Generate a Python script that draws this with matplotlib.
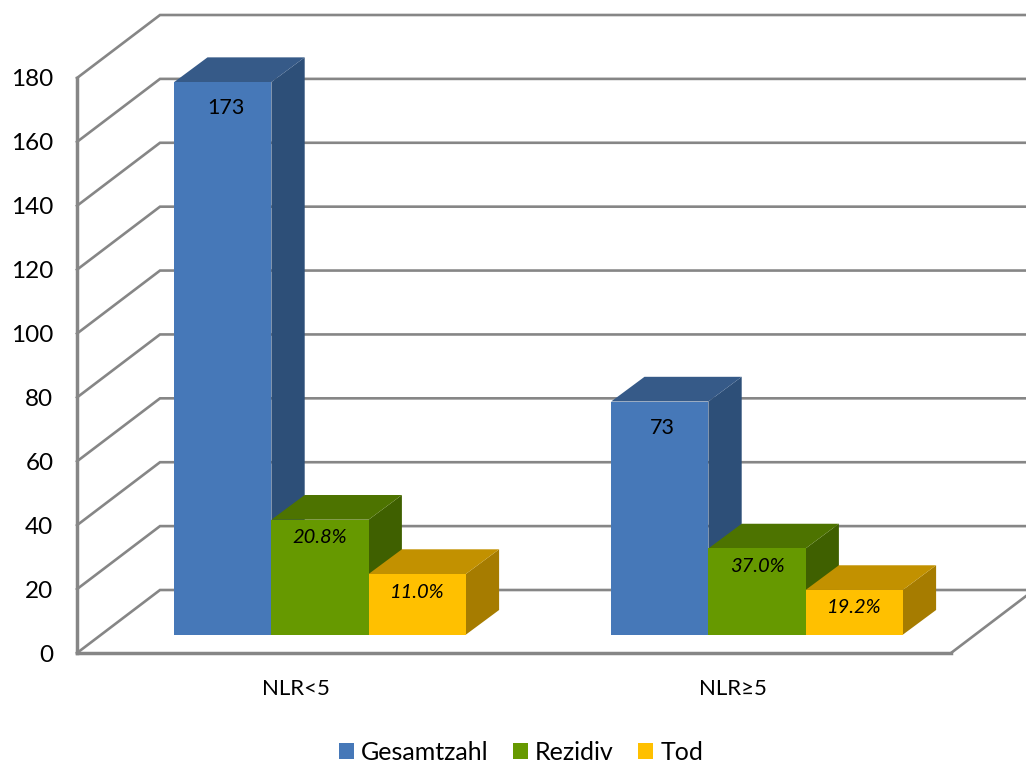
import matplotlib
matplotlib.use("Agg")
import matplotlib.pyplot as plt
from matplotlib.patches import Patch

plt.rcParams["font.family"] = ["Lato", "DejaVu Sans"]

categories = ["NLR<5", "NLR≥5"]
series_names = ["Gesamtzahl", "Rezidiv", "Tod"]
gesamtzahl = [173, 73]
rezidiv = [36, 27]
tod = [19, 14]
y_ticks = list(range(0, 181, 20))

# front, top and side face colours for each series
colors = {
    "Gesamtzahl": ("#4678B8", "#365A88", "#2D4F78"),
    "Rezidiv": ("#669900", "#4D7300", "#3F6000"),
    "Tod": ("#FFC000", "#C29100", "#A67C00"),
}
GRID = "#868686"

W, H = 1026, 765
LEFT, RIGHT, BOTTOM, TOP = 77, 951, 653, 78
PX_X = (RIGHT - LEFT) / 2      # pixels per category
PX_Y = (BOTTOM - TOP) / 180    # pixels per count

# oblique offsets, converted from pixels to data units
WALL_DX, WALL_DY = 83 / PX_X, 63 / PX_Y
BAR_DX, BAR_DY = 33.3 / PX_X, 24.7 / PX_Y
BASE_DX, BASE_DY = 24.5 / PX_X, 18.3 / PX_Y
BAR_W = 97.2 / PX_X

fig = plt.figure(figsize=(W / 100, H / 100), dpi=100, facecolor="white")
ax = fig.add_axes([LEFT / W, (H - BOTTOM) / H, (RIGHT - LEFT) / W, (BOTTOM - TOP) / H])
ax.set_xlim(0, 2)
ax.set_ylim(0, 180)

for name in ["top", "right"]:
    ax.spines[name].set_visible(False)
for name in ["left", "bottom"]:
    ax.spines[name].set_color(GRID)
    ax.spines[name].set_linewidth(2.5)

ax.set_yticks(y_ticks)
ax.set_xticks([0.5, 1.5], categories)
ax.tick_params(axis="y", length=0, pad=17, labelsize=17.5, labelcolor="black")
ax.tick_params(axis="x", length=0, pad=19, labelsize=16, labelcolor="black")

# side wall and back wall gridlines
for t in y_ticks:
    ax.plot([0, WALL_DX, 2 + WALL_DX], [t, t + WALL_DY, t + WALL_DY],
            color=GRID, lw=1.9, clip_on=False, zorder=1, solid_joinstyle="miter")
ax.plot([2, 2 + WALL_DX], [0, WALL_DY], color=GRID, lw=1.9, clip_on=False, zorder=1)


def draw_bar(x, value, name, z):
    front, top, side = colors[name]
    x0 = x + BASE_DX
    y0 = BASE_DY
    y1 = y0 + value
    ax.fill([x0 + BAR_W, x0 + BAR_W + BAR_DX, x0 + BAR_W + BAR_DX, x0 + BAR_W],
            [y0, y0 + BAR_DY, y1 + BAR_DY, y1], color=side, lw=0, zorder=z, clip_on=False)
    ax.fill([x0, x0 + BAR_DX, x0 + BAR_W + BAR_DX, x0 + BAR_W],
            [y1, y1 + BAR_DY, y1 + BAR_DY, y1], color=top, lw=0, zorder=z, clip_on=False)
    ax.bar(x0, value, BAR_W, bottom=y0, align="edge", color=front, lw=0, zorder=z + 0.5)


for i in range(len(categories)):
    start = i + 0.5 - 1.5 * BAR_W
    total = gesamtzahl[i]
    draw_bar(start, gesamtzahl[i], "Gesamtzahl", 3)
    draw_bar(start + BAR_W, rezidiv[i], "Rezidiv", 4)
    draw_bar(start + 2 * BAR_W, tod[i], "Tod", 5)

    # count on the total bar, share of the total on the other two
    ax.text(start + BASE_DX + BAR_W / 2 + 3 / PX_X, BASE_DY + total - 26 / PX_Y, str(total),
            ha="center", va="center", fontsize=15.5, color="black", zorder=8)
    for j, value in enumerate([rezidiv[i], tod[i]], start=1):
        ax.text(start + BASE_DX + (j + 0.5) * BAR_W, BASE_DY + value - 18 / PX_Y,
                f"{value / total * 100:.1f}%", ha="center", va="center",
                fontsize=14.5, style="italic", color="black", zorder=8)

handles = [Patch(facecolor=colors[n][0], label=n) for n in series_names]
fig.legend(handles=handles, loc="center", bbox_to_anchor=(521 / W, (H - 752) / H), ncol=3,
           frameon=False, fontsize=18, handlelength=0.6, handleheight=0.6,
           handletextpad=0.28, columnspacing=0.98, borderpad=0, borderaxespad=0)

fig.savefig("out.png", dpi=100)
